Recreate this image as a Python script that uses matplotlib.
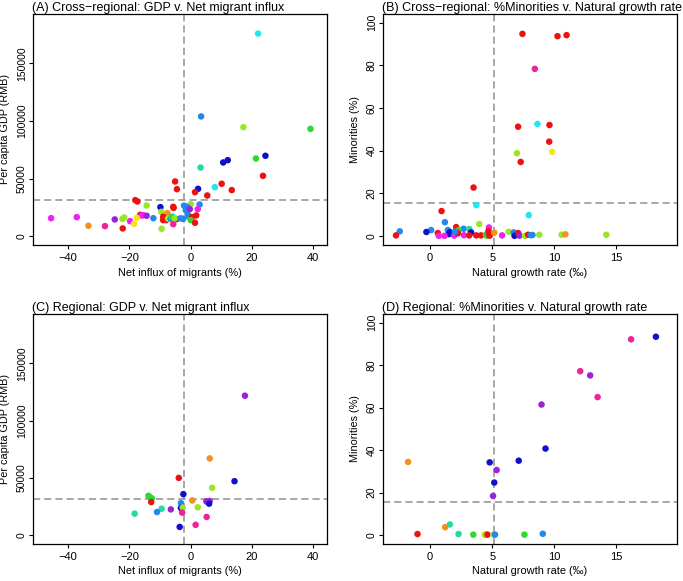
import matplotlib
matplotlib.use("Agg")
import matplotlib.pyplot as plt

plt.rcParams['font.family'] = ['Liberation Sans', 'DejaVu Sans']

# colour codes used per point
palette = {
    'r': '#EE1111', 'o': '#F39020', 'y': '#F5E614', 'l': '#99E626',
    'g': '#2FD82F', 's': '#22DD99', 'c': '#22E6EE', 'd': '#2288EE',
    'b': '#1010C8', 'p': '#9A22DD', 'm': '#EE22EE', 'k': '#EE2299',
}

# (A) cross-regional: net migrant influx (%) vs per capita GDP
a_x = [22.0, 3.4, 17.2, 39.1, 21.3, 24.4, 12.1, 10.6, 3.2, 23.6, -5.1, 10.1,
       7.9, 2.4, -4.5, 13.4, 1.4, 5.4, -18.1, -17.4, -14.4, 2.9, -9.9, 0.0,
       -2.2, -1.2, -1.6, -1.0, -0.6, -5.7, -5.6, 2.3, 1.8, -0.7, -2.5,
       -9.6, -7.6, -16.5, -15.5, -16.0, -14.4, -12.2, -45.6, -37.2, -33.4,
       -28.0, -24.8, -22.3, -21.7, -22.2, -19.8, -18.5, -17.6, -9.5, -9.0,
       -9.0, -8.0, -7.4, -5.9, -6.5, -6.2, -5.7, -4.6, -5.2, 0.0, 0.4, 0.0,
       1.4, -3.3, -0.3]
a_y = [176000, 104000, 94700, 93200, 67500, 69800, 66000, 64000, 59600,
       52400, 47500, 45500, 42600, 41100, 40800, 40000, 38200, 35300, 31300,
       30100, 26600, 27500, 25200, 27800, 26500, 25500, 22500, 19000, 17000,
       25500, 24500, 23500, 18000, 17500, 15000, 21100, 20000, 18500, 18200,
       17900, 17700, 15600, 15600, 16500, 9000, 8700, 14500, 15000, 16200,
       6700, 13000, 10700, 15900, 6400, 16800, 13900, 13900, 15200, 17100,
       15000, 16500, 10400, 14800, 15500, 15200, 16500, 13900, 11600, 15500,
       23500]
a_c = ['c', 'd', 'l', 'g', 'g', 'b', 'b', 'b', 's', 'r', 'r', 'r',
       'c', 'b', 'r', 'r', 'r', 'r', 'r', 'r', 'l', 'd', 'b', 'l',
       'd', 'd', 'd', 'd', 'd', 'r', 'r', 'm', 'r', 'd', 'd',
       'l', 'o', 'r', 'm', 'm', 'p', 'd', 'm', 'm', 'o',
       'k', 'p', 'l', 'l', 'r', 'm', 'y', 'y', 'l', 'r',
       'r', 'r', 'l', 'c', 'd', 'g', 'k', 'r', 'l', 'g', 'r', 'g',
       'r', 'd', 'p']

# (B) cross-regional: natural growth rate vs % minorities
b_x = [7.44, 10.27, 11.0, 8.44, 8.65, 9.62, 7.09, 9.6, 9.84, 7.0, 7.3, 3.5,
       3.72, 0.92, 7.95, 1.19, 3.96, 2.1, 4.74, 1.43, 0.08, -0.3, -2.45,
       -2.75, 2.7, 2.3, 3.15, 3.3, 1.6, 1.7, 1.5, 0.62, 0.7, 1.16, 1.94,
       2.72, 2.24, 3.15, 3.72, 4.1, 4.5, 4.6, 4.7, 4.75, 4.8, 5.17, 5.8,
       6.33, 6.74, 6.8, 7.1, 7.2, 7.65, 7.9, 8.1, 8.25, 8.8, 10.6, 10.9,
       14.2, 2.0]
b_y = [94.7, 93.6, 94.1, 78.3, 52.5, 52.0, 51.2, 44.2, 39.4, 38.8, 34.7, 22.7,
       14.5, 11.7, 9.8, 6.5, 5.6, 4.2, 4.0, 2.8, 2.8, 1.9, 2.2,
       0.3, 3.4, 2.8, 3.3, 1.7, 1.8, 1.2, 0.9, 1.4, 0.1, 0.1, 0.2,
       0.4, 1.3, 0.3, 0.3, 0.3, 0.6, 0.1, 2.3, 1.0, 0.2, 1.6, 0.3,
       2.0, 1.7, 0.1, 1.4, 0.2, 0.1, 0.6, 0.4, 0.5, 0.6, 0.6, 0.8,
       0.6, 2.0]
b_c = ['r', 'r', 'r', 'k', 'c', 'r', 'r', 'r', 'y', 'l', 'r', 'r',
       'c', 'r', 'c', 'd', 'l', 'r', 'm', 'd', 'd', 'b', 'd',
       'r', 'd', 'g', 's', 'b', 'b', 'b', 'b', 'r', 'm', 'm', 'm',
       'm', 'r', 'r', 'r', 'r', 'g', 'g', 'r', 'r', 'r', 'o', 'm',
       'l', 'd', 'b', 'r', 'p', 'l', 'r', 'd', 'd', 'l', 'l', 'o',
       'l', 'd']

# (C) regional: net migrant influx vs per capita GDP
c_x = [17.7, 6.2, -3.9, 14.3, 7.0, -2.4, -13.8, -13.3, -12.7, -12.9, 0.5,
       -3.2, 5.1, 6.2, 5.6, 6.0, -3.2, 2.3, -2.6, -9.5, -6.5, -2.8, -11.0,
       -18.3, 5.2, 1.6, -3.6]
c_y = [121700, 67000, 50000, 47100, 41300, 35800, 34400, 33200, 32100,
       28900, 30300, 28000, 29500, 29800, 29000, 27500, 23700, 24300, 24000,
       23100, 22500, 19700, 20200, 18800, 15900, 9000, 7200]
c_c = ['p', 'o', 'r', 'b', 'l', 'b', 'g', 'g', 'g', 'r', 'o',
       'd', 'p', 'p', 'p', 'b', 'b', 'l', 'l', 's', 'p', 'k', 'd',
       's', 'k', 'k', 'b']

# (D) regional: natural growth rate vs % minorities
d_x = [18.2, 16.2, 12.1, 12.9, 13.5, 8.98, 9.3, 7.14, 4.8, -1.78, 5.36,
       5.17, 5.07, 1.59, 1.21, -1.02, 2.29, 3.48, 4.37, 4.56, 4.45, 4.62,
       5.1, 5.23, 7.6, 9.08]
d_y = [93.3, 92.1, 77.1, 75.1, 64.9, 61.4, 40.7, 35.0, 34.2, 34.4, 30.6,
       24.7, 18.4, 5.0, 3.7, 0.5, 0.5, 0.2, 0.2, 0.2, 0.2, 0.2,
       0.2, 0.2, 0.2, 0.6]
d_c = ['b', 'k', 'k', 'p', 'k', 'p', 'b', 'b', 'b', 'o', 'p',
       'b', 'p', 's', 'o', 'r', 's', 'g', 'y', 'o', 'l', 'r',
       'l', 'd', 'g', 'd']

gdp_cut, mig_cut = 31400, -2.2
min_cut, ngr_cut = 15.7, 5.17

fig = plt.figure(figsize=(6.83, 5.81), dpi=100)

W, H = 683, 581


def make_ax(l, t, r, b):
    return fig.add_axes([l / W, (H - b) / H, (r - l) / W, (b - t) / H])


panels = [
    (make_ax(33, 14, 327, 245), a_x, a_y, a_c, '(A) Cross\u2212regional: GDP v. Net migrant influx', 'gdp'),
    (make_ax(383, 14, 677, 245), b_x, b_y, b_c, '(B) Cross\u2212regional: %Minorities v. Natural growth rate', 'min'),
    (make_ax(33, 314, 327, 544), c_x, c_y, c_c, '(C) Regional: GDP v. Net migrant influx', 'gdp'),
    (make_ax(383, 314, 677, 544), d_x, d_y, d_c, '(D) Regional: %Minorities v. Natural growth rate', 'min'),
]

dash = dict(color='#949494', lw=1.15, ls=(0, (4.5, 2.5)), zorder=2)

for ax, xs, ys, cs, title, kind in panels:
    ax.scatter(xs, ys, c=[palette[k] for k in cs], s=22, linewidths=0, zorder=3)
    if kind == 'gdp':
        ax.set_xlim(-51.5, 44.5)
        ax.set_ylim(-7700, 193000)
        ax.set_xticks([-40, -20, 0, 20, 40])
        ax.set_yticks([0, 50000, 100000, 150000])
        ax.axvline(mig_cut, **dash)
        ax.axhline(gdp_cut, **dash)
        xlab, ylab = 'Net influx of migrants (%)', 'Per capita GDP (RMB)'
    else:
        ax.set_xlim(-3.8, 19.9)
        ax.set_ylim(-4.2, 104)
        ax.set_xticks([0, 5, 10, 15])
        ax.set_yticks([0, 20, 40, 60, 80, 100])
        ax.axvline(ngr_cut, **dash)
        ax.axhline(min_cut, **dash)
        xlab, ylab = 'Natural growth rate (\u2030)', 'Minorities (%)'
    ax.set_xlabel(xlab, fontsize=7.9, labelpad=3)
    ax.set_ylabel(ylab, fontsize=7.8, labelpad=5)
    ax.set_title(title, loc='left', fontsize=9, pad=1.5, x=-0.004)
    ax.tick_params(axis='x', labelsize=8, length=3, width=0.8, pad=3)
    ax.tick_params(axis='y', labelsize=7.5, length=3, width=0.8, pad=1.5)
    for lab in ax.get_yticklabels():
        lab.set_rotation(90)
        lab.set_va('center')
        lab.set_family(['Liberation Sans Narrow', 'Liberation Sans'])
    for sp in ax.spines.values():
        sp.set_linewidth(0.9)

fig.savefig('out.png', dpi=100)
